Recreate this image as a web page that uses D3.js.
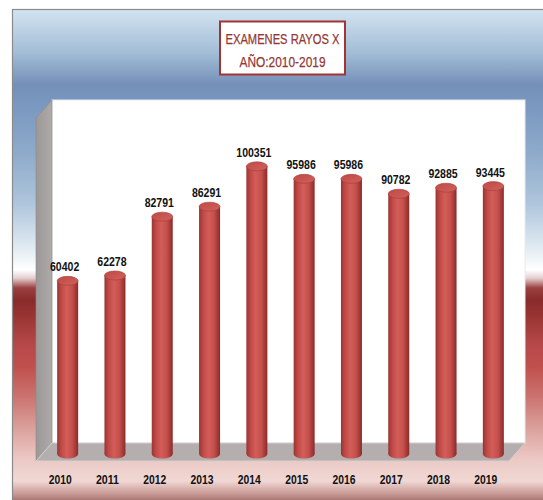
<!DOCTYPE html>
<html>
<head>
<meta charset="utf-8">
<script src="https://cdn.jsdelivr.net/npm/d3@7"></script>
<style>
  html, body { margin: 0; padding: 0; background: #ffffff; }
  svg { display: block; }
</style>
</head>
<body>
<svg id="chart" width="543" height="500"></svg>
<script>
// Annual X-ray exams
const years = ["2010", "2011", "2012", "2013", "2014", "2015", "2016", "2017", "2018", "2019"];
const exams = [60402, 62278, 82791, 86291, 100351, 95986, 95986, 90782, 92885, 93445];
const titleLines = ["EXAMENES RAYOS X", "AÑO:2010-2019"];

const svg = d3.select("#chart");
const defs = svg.append("defs");
const font = "'Liberation Sans', Arial, sans-serif";

// background band gradient (blue sky fading into red)
const bg = defs.append("linearGradient").attr("id", "bg")
  .attr("x1", 0).attr("y1", 0).attr("x2", 0).attr("y2", 1);
[
  [0.000, "#d2e4f0"], [0.087, "#a3bdd6"], [0.150, "#7490b8"], [0.193, "#7a98c0"],
  [0.287, "#8eaacb"], [0.389, "#aec6dc"], [0.470, "#dde8f0"], [0.521, "#ffffff"],
  [0.537, "#e6d0cf"], [0.557, "#9a4040"], [0.582, "#8a2a2a"], [0.613, "#983533"],
  [0.674, "#b8494a"], [0.715, "#c0504d"], [0.776, "#cc7470"], [0.837, "#dba09c"],
  [0.898, "#ecc8c4"], [0.943, "#f0d8d4"], [0.969, "#c89894"], [1.000, "#7a4644"]
].forEach(([o, c]) => bg.append("stop").attr("offset", o).attr("stop-color", c));

svg.append("rect").attr("x", 12.5).attr("y", 9.5).attr("width", 540).attr("height", 500)
  .attr("fill", "url(#bg)").attr("stroke", "#8a8a8a").attr("stroke-width", 1.2);

// plot walls (back wall, left side wall, floor)
const wall = { left: 52, right: 525, top: 100, floor: 443, dx: -16, dy: 18 };

const sideGrad = defs.append("linearGradient").attr("id", "side")
  .attr("x1", 0).attr("y1", 0).attr("x2", 1).attr("y2", 0);
sideGrad.append("stop").attr("offset", 0).attr("stop-color", "#9c9898");
sideGrad.append("stop").attr("offset", 1).attr("stop-color", "#aeaaaa");

svg.append("rect").attr("x", wall.left).attr("y", wall.top)
  .attr("width", wall.right - wall.left).attr("height", wall.floor - wall.top)
  .attr("fill", "#ffffff").attr("stroke", "#e6eaee").attr("stroke-width", 1);

svg.append("polygon")
  .attr("points", [[wall.left, wall.top], [wall.left, wall.floor],
                   [wall.left + wall.dx, wall.floor + wall.dy], [wall.left + wall.dx, wall.top + wall.dy]].join(" "))
  .attr("fill", "url(#side)").attr("stroke", "#8e8a8a").attr("stroke-width", 0.6);

svg.append("polygon")
  .attr("points", [[wall.left, wall.floor], [wall.right, wall.floor],
                   [wall.right + wall.dx, wall.floor + wall.dy], [wall.left + wall.dx, wall.floor + wall.dy]].join(" "))
  .attr("fill", "#b4aeae").attr("stroke", "#d6d2d2").attr("stroke-width", 1);

// scales: categories across the back wall; bars sit half the depth toward the viewer
const depthShift = wall.dx / 2;
const x = d3.scaleBand().domain(years).range([wall.left, wall.right]).padding(0);
const y = d3.scaleLinear().domain([0, 120000]).range([454, 110]);
const cx = d => x(d.yr) + x.bandwidth() / 2 + depthShift;

// cylinder shading
const body = defs.append("linearGradient").attr("id", "cyl")
  .attr("x1", 0).attr("y1", 0).attr("x2", 1).attr("y2", 0);
[[0, "#9a3432"], [0.2, "#c04a47"], [0.45, "#d35d59"], [0.72, "#c44f4b"], [1, "#8a2b29"]]
  .forEach(([o, c]) => body.append("stop").attr("offset", o).attr("stop-color", c));
const cap = defs.append("linearGradient").attr("id", "cap")
  .attr("x1", 0).attr("y1", 0).attr("x2", 1).attr("y2", 1);
cap.append("stop").attr("offset", 0).attr("stop-color", "#c04844");
cap.append("stop").attr("offset", 1).attr("stop-color", "#d0625d");

const barW = 21, ry = 4.5;
const bars = svg.append("g").selectAll("g").data(years.map((yr, i) => ({ yr, v: exams[i] })))
  .join("g");

bars.append("ellipse")
  .attr("cx", cx).attr("cy", y(0))
  .attr("rx", barW / 2).attr("ry", ry).attr("fill", "url(#cyl)");
bars.append("rect")
  .attr("x", d => cx(d) - barW / 2).attr("y", d => y(d.v))
  .attr("width", barW).attr("height", d => y(0) - y(d.v)).attr("fill", "url(#cyl)");
bars.append("ellipse")
  .attr("cx", cx).attr("cy", d => y(d.v))
  .attr("rx", barW / 2).attr("ry", ry).attr("fill", "url(#cap)")
  .attr("stroke", "#a83c39").attr("stroke-width", 0.6);

// value labels
bars.append("text")
  .attr("x", d => cx(d) - 3).attr("y", d => y(d.v) - 9.5)
  .attr("text-anchor", "middle")
  .attr("font-family", font).attr("font-weight", "bold").attr("font-size", 12.5)
  .attr("textLength", d => String(d.v).length * 5.85).attr("lengthAdjust", "spacingAndGlyphs")
  .attr("fill", "#111111").text(d => d.v);

// category axis along the front edge of the floor
const axis = svg.append("g").attr("transform", `translate(${wall.dx + 0.5},471)`)
  .call(d3.axisBottom(x).tickSize(0).tickPadding(4));
axis.select(".domain").remove();
axis.selectAll("text").attr("font-family", font).attr("font-weight", "bold")
  .attr("font-size", 12).attr("fill", "#111111")
  .attr("textLength", 23).attr("lengthAdjust", "spacingAndGlyphs");

// title box
svg.append("rect").attr("x", 220).attr("y", 21.5).attr("width", 125).attr("height", 53)
  .attr("fill", "#ffffff").attr("stroke", "#a23534").attr("stroke-width", 2);
const titleWidths = [114, 86];
svg.append("g").selectAll("text").data(titleLines).join("text")
  .attr("x", 282.5).attr("y", (d, i) => 43.5 + i * 23.2)
  .attr("text-anchor", "middle")
  .attr("font-family", font).attr("font-size", 15)
  .attr("textLength", (d, i) => titleWidths[i]).attr("lengthAdjust", "spacingAndGlyphs")
  .attr("fill", "#953735").attr("stroke", "#953735").attr("stroke-width", 0.25)
  .text(d => d);
</script>
</body>
</html>
